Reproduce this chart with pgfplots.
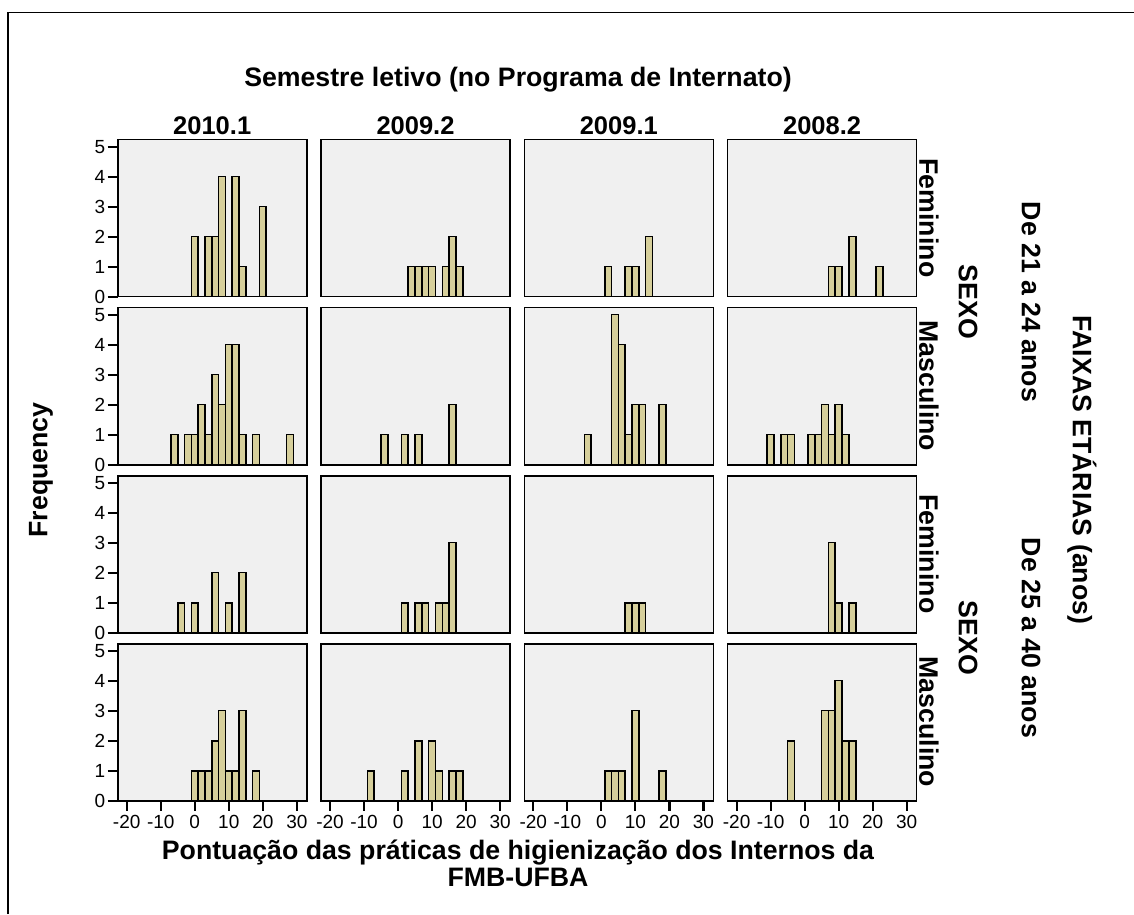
\documentclass[border=0pt]{standalone}
\usepackage{fontspec}
\setmainfont{Liberation Sans}
\usepackage{pgfplots}
\pgfplotsset{compat=1.18}
\definecolor{barfill}{RGB}{214,207,155}
\definecolor{panelbg}{RGB}{240,240,240}
\newcommand{\bigbf}{\fontsize{26.7}{30}\selectfont\bfseries}
\newcommand{\hdbf}{\fontsize{25.5}{28}\selectfont\bfseries}
\pgfplotsset{
  panel/.style={
    scale only axis, width=189pt, height=157pt,
    xmin=-22.65, xmax=32.9, ymin=0, ymax=5.233,
    anchor=south west,
    axis background/.style={fill=panelbg},
    axis line style={line width=1.6pt, black},
    tick align=outside, major tick length=10pt,
    every tick/.style={line width=2.2pt, black},
    xtick pos=bottom, ytick pos=left,
    xtick=\empty, ytick=\empty,
    /pgf/number format/assume math mode=true,
    tick label style={font=\fontsize{19}{21}\selectfont},
    clip=false,
  },
  yt/.style={ytick={0,1,2,3,4,5}, yticklabel style={xshift=1pt}},
  xt/.style={xtick={-20,-10,0,10,20,30}, xticklabel style={yshift=-1pt}},
  histbar/.style={ybar, bar width=2, fill=barfill, draw=black, line width=1.6pt, bar shift=0pt},
}
\begin{document}
\begin{tikzpicture}
\path[use as bounding box] (0pt,0pt) rectangle (1134pt,914pt);
\draw[line width=1.8pt] (8.3pt,0pt) -- (8.3pt,901.5pt) -- (1134pt,901.5pt);

% Row 1: Feminino, 21-24
\begin{axis}[panel, yt, at={(117.7pt,617.3pt)}]
\addplot[histbar] coordinates {(0,2)(4,2)(6,2)(8,4)(12,4)(14,1)(20,3)};
\end{axis}
\begin{axis}[panel, at={(321.0pt,617.3pt)}]
\addplot[histbar] coordinates {(4,1)(6,1)(8,1)(10,1)(14,1)(16,2)(18,1)};
\end{axis}
\begin{axis}[panel, at={(524.3pt,617.3pt)}]
\addplot[histbar] coordinates {(2,1)(8,1)(10,1)(14,2)};
\end{axis}
\begin{axis}[panel, at={(727.6pt,617.3pt)}]
\addplot[histbar] coordinates {(8,1)(10,1)(14,2)(22,1)};
\end{axis}

% Row 2: Masculino, 21-24
\begin{axis}[panel, yt, at={(117.7pt,449.3pt)}]
\addplot[histbar] coordinates {(-6,1)(-2,1)(0,1)(2,2)(4,1)(6,3)(8,2)(10,4)(12,4)(14,1)(18,1)(28,1)};
\end{axis}
\begin{axis}[panel, at={(321.0pt,449.3pt)}]
\addplot[histbar] coordinates {(-4,1)(2,1)(6,1)(16,2)};
\end{axis}
\begin{axis}[panel, at={(524.3pt,449.3pt)}]
\addplot[histbar] coordinates {(-4,1)(4,5)(6,4)(8,1)(10,2)(12,2)(18,2)};
\end{axis}
\begin{axis}[panel, at={(727.6pt,449.3pt)}]
\addplot[histbar] coordinates {(-10,1)(-6,1)(-4,1)(2,1)(4,1)(6,2)(8,1)(10,2)(12,1)};
\end{axis}

% Row 3: Feminino, 25-40
\begin{axis}[panel, yt, at={(117.7pt,281.3pt)}]
\addplot[histbar] coordinates {(-4,1)(0,1)(6,2)(10,1)(14,2)};
\end{axis}
\begin{axis}[panel, at={(321.0pt,281.3pt)}]
\addplot[histbar] coordinates {(2,1)(6,1)(8,1)(12,1)(14,1)(16,3)};
\end{axis}
\begin{axis}[panel, at={(524.3pt,281.3pt)}]
\addplot[histbar] coordinates {(8,1)(10,1)(12,1)};
\end{axis}
\begin{axis}[panel, at={(727.6pt,281.3pt)}]
\addplot[histbar] coordinates {(8,3)(10,1)(14,1)};
\end{axis}

% Row 4: Masculino, 25-40
\begin{axis}[panel, yt, xt, at={(117.7pt,113.3pt)}]
\addplot[histbar] coordinates {(0,1)(2,1)(4,1)(6,2)(8,3)(10,1)(12,1)(14,3)(18,1)};
\end{axis}
\begin{axis}[panel, xt, at={(321.0pt,113.3pt)}]
\addplot[histbar] coordinates {(-8,1)(2,1)(6,2)(10,2)(12,1)(16,1)(18,1)};
\end{axis}
\begin{axis}[panel, xt, at={(524.3pt,113.3pt)}]
\addplot[histbar] coordinates {(2,1)(4,1)(6,1)(10,3)(18,1)};
\end{axis}
\begin{axis}[panel, xt, at={(727.6pt,113.3pt)}]
\addplot[histbar] coordinates {(-4,2)(6,3)(8,3)(10,4)(12,2)(14,2)};
\end{axis}

% Titles and labels
\node[anchor=base, font=\bigbf] at (518pt,827pt) {Semestre letivo (no Programa de Internato)};
\node[anchor=base, font=\hdbf] at (212.2pt,779pt) {2010.1};
\node[anchor=base, font=\hdbf] at (415.5pt,779pt) {2009.2};
\node[anchor=base, font=\hdbf] at (618.8pt,779pt) {2009.1};
\node[anchor=base, font=\hdbf] at (822.1pt,779pt) {2008.2};
\node[anchor=base, font=\bigbf] at (518pt,55pt) {Pontuação das práticas de higienização dos Internos da};
\node[anchor=base, font=\bigbf] at (518pt,28pt) {FMB-UFBA};
\node[rotate=90, font=\bigbf] at (41pt,444pt) {Frequency};

\node[rotate=-90, font=\bigbf] at (929pt,696pt) {Feminino};
\node[rotate=-90, font=\bigbf] at (929pt,528pt) {Masculino};
\node[rotate=-90, font=\bigbf] at (929pt,360pt) {Feminino};
\node[rotate=-90, font=\bigbf] at (929pt,192pt) {Masculino};
\node[rotate=-90, font=\bigbf] at (968pt,612pt) {SEXO};
\node[rotate=-90, font=\bigbf] at (968pt,276pt) {SEXO};
\node[rotate=-90, font=\bigbf] at (1031pt,612pt) {De 21 a 24 anos};
\node[rotate=-90, font=\bigbf] at (1031pt,276pt) {De 25 a 40 anos};
\node[rotate=-90, font=\bigbf] at (1082pt,444pt) {FAIXAS ETÁRIAS (anos)};
\end{tikzpicture}
\end{document}
